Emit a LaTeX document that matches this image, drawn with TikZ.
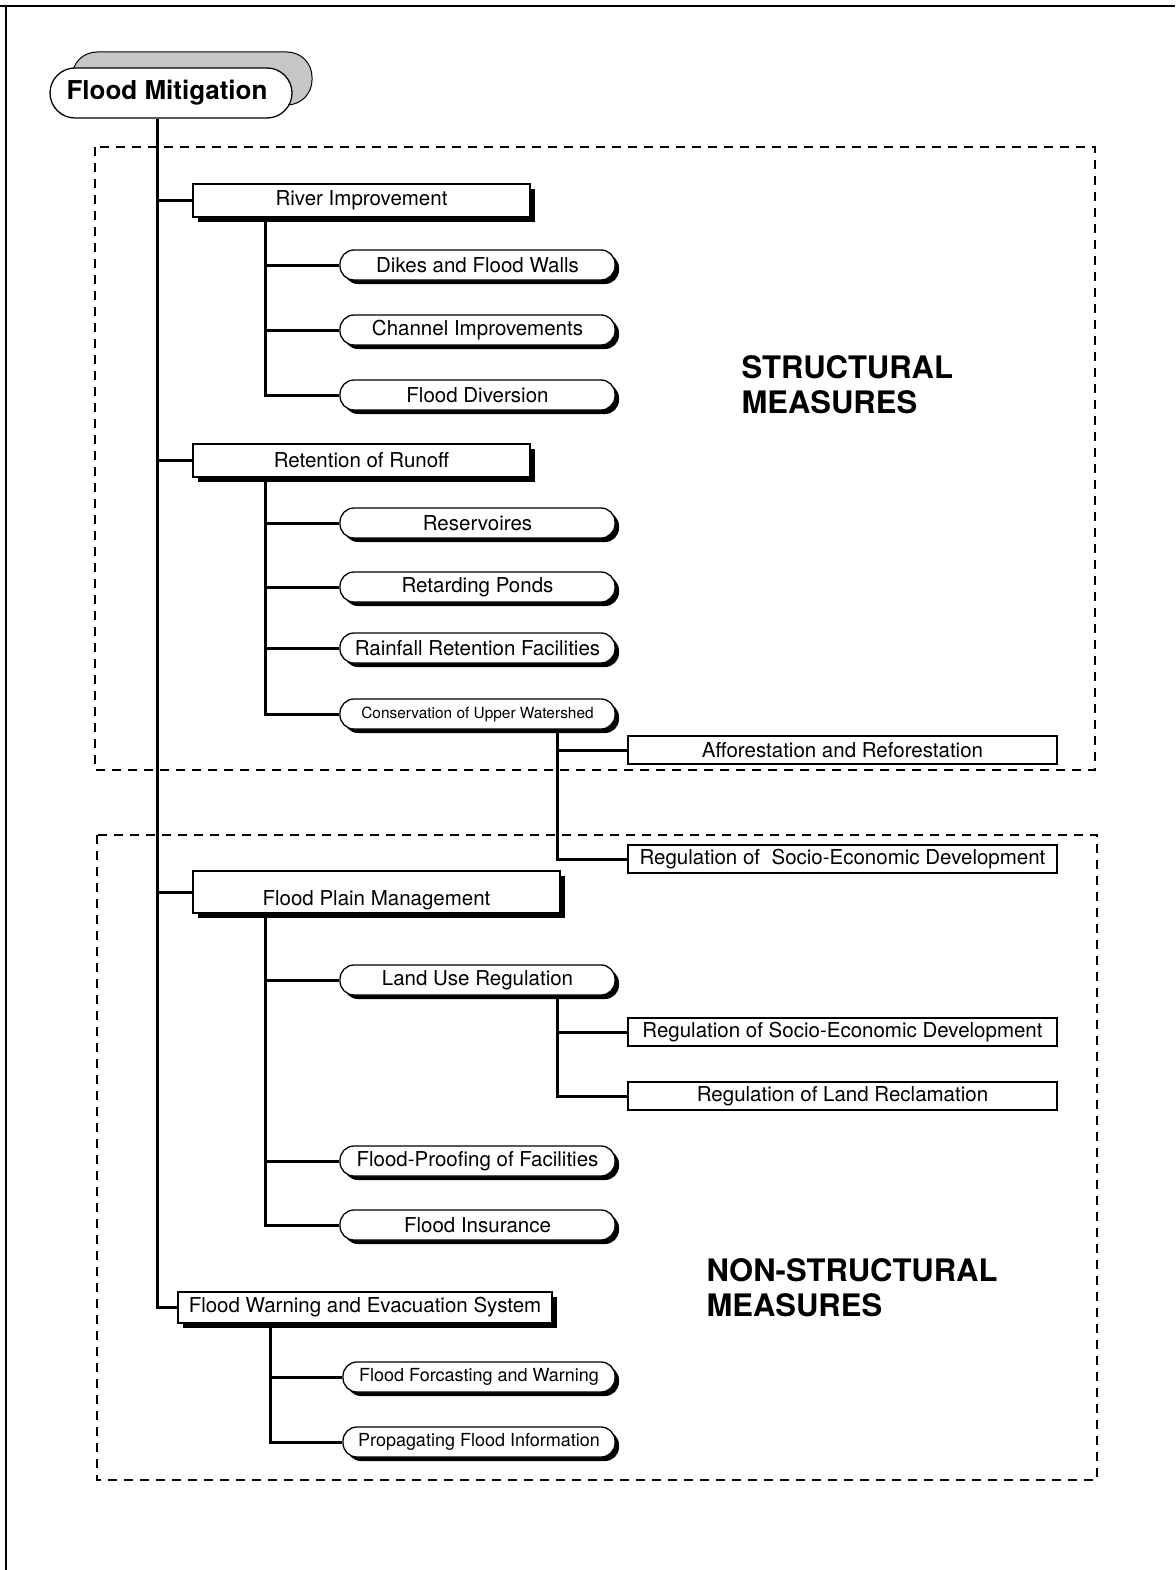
\documentclass[tikz,border=0pt]{standalone}
\usepackage{fontspec}
\setmainfont{TeX Gyre Heros}
\usetikzlibrary{shadows,calc}
\begin{document}
\begin{tikzpicture}[x=1pt,y=-1pt,
  conn/.style={line width=3pt},
  region/.style={dashed, dash pattern=on 9pt off 7pt, line width=1.3pt},
  rectbox/.style={draw, line width=1.3pt, fill=white, inner sep=0pt,
    drop shadow={shadow xshift=5pt, shadow yshift=-5pt, fill=black, opacity=1},
    font=\fontsize{20.5}{22}\selectfont},
  roundbox/.style={draw, line width=1.3pt, fill=white, inner sep=0pt, rounded corners=14pt,
    minimum width=275pt, minimum height=30pt,
    drop shadow={shadow xshift=4pt, shadow yshift=-4pt, fill=black, opacity=1},
    font=\fontsize{20.5}{22}\selectfont},
  plainbox/.style={draw, line width=1.3pt, fill=white, inner sep=0pt,
    minimum width=429pt, minimum height=28pt, font=\fontsize{20.5}{22}\selectfont},
  bigtext/.style={font=\bfseries\fontsize{31}{35}\selectfont, align=left, anchor=west}
]
\useasboundingbox (0,0) rectangle (1175,1570);
% page edges
\draw[line width=1.2pt] (0,6) -- (1175,6);
\draw[line width=1.5pt] (6,6) -- (6,1570);

% regions
\draw[region] (95,147) rectangle (1095,770);
\draw[region] (97,835) rectangle (1097,1480);

% root node with stippled back shape
\fill[gray!45, draw=black, line width=1pt, rounded corners=25pt] (72,52) rectangle (312,105);
\node[draw, line width=1.3pt, fill=white, rounded corners=25pt, minimum width=242pt,
  minimum height=50pt, inner sep=0pt, font=\bfseries\fontsize{26}{28}\selectfont]
  (FM) at (171,93) {\hspace*{-8pt}Flood Mitigation};

\coordinate (trunk) at (157,0);
\coordinate (subA) at (265,0);
\coordinate (subB) at (557,0);
\coordinate (subC) at (270,0);

% level-1 boxes
\node[rectbox, minimum width=337pt, minimum height=33pt] (RI) at (361.5,200.5) {River Improvement};
\node[rectbox, minimum width=337pt, minimum height=33pt] (RR) at (361.5,460.5) {Retention of Runoff};
\node[rectbox, minimum width=367pt, minimum height=42pt] (FP) at (376.5,892) {\raisebox{-13pt}[0pt][0pt]{Flood Plain Management}};
\node[rectbox, minimum width=374pt, minimum height=31pt] (FW) at (365,1307.5) {Flood Warning and Evacuation System};

% level-2 rounded boxes
\node[roundbox] (DK) at (477.5,265) {Dikes and Flood Walls};
\node[roundbox] (CI) at (477.5,330) {Channel Improvements};
\node[roundbox] (FD) at (477.5,395) {Flood Diversion};
\node[roundbox] (RS) at (477.5,523) {Reservoires};
\node[roundbox] (RP) at (477.5,587) {Retarding Ponds};
\node[roundbox] (RF) at (477.5,648) {Rainfall Retention Facilities};
\node[roundbox, font=\fontsize{15.4}{17}\selectfont] (CU) at (477.5,714) {Conservation of Upper Watershed};
\node[roundbox] (LU) at (477.5,980) {Land Use Regulation};
\node[roundbox] (FF) at (477.5,1161) {Flood-Proofing of Facilities};
\node[roundbox] (FI) at (477.5,1225) {Flood Insurance};
\node[roundbox, minimum width=272pt, font=\fontsize{18}{20}\selectfont] (FC) at (479,1377) {Flood Forcasting and Warning};
\node[roundbox, minimum width=272pt, font=\fontsize{18}{20}\selectfont] (PF) at (479,1442) {Propagating Flood Information};

% right plain boxes
\node[plainbox] (AR) at (842.5,750) {Afforestation and Reforestation};
\node[plainbox] (SE1) at (842.5,859) {Regulation of \ Socio-Economic Development};
\node[plainbox] (SE2) at (842.5,1032) {Regulation of Socio-Economic Development};
\node[plainbox] (LR) at (842.5,1096) {Regulation of Land Reclamation};

% big labels
\node[bigtext] (SM) at (738,385) {STRUCTURAL\\MEASURES};
\node[bigtext] (NSM) at (703,1288) {NON-STRUCTURAL\\MEASURES};

% trunk connectors
\draw[conn] (FM.south -| trunk) -- (FW.west -| trunk) -- (FW.west);
\draw[conn] (RI.west -| trunk) -- (RI.west);
\draw[conn] (RR.west -| trunk) -- (RR.west);
\draw[conn] (FP.west -| trunk) -- (FP.west);

% River Improvement
\draw[conn] (RI.south -| subA) -- (FD.west -| subA) -- (FD.west);
\draw[conn] (DK.west -| subA) -- (DK.west);
\draw[conn] (CI.west -| subA) -- (CI.west);
% Retention of Runoff
\draw[conn] (RR.south -| subA) -- (CU.west -| subA) -- (CU.west);
\draw[conn] (RS.west -| subA) -- (RS.west);
\draw[conn] (RP.west -| subA) -- (RP.west);
\draw[conn] (RF.west -| subA) -- (RF.west);
% Conservation
\draw[conn] (CU.south -| subB) -- (SE1.west -| subB) -- (SE1.west);
\draw[conn] (AR.west -| subB) -- (AR.west);
% Flood plain
\draw[conn] (FP.south -| subA) -- (FI.west -| subA) -- (FI.west);
\draw[conn] (LU.west -| subA) -- (LU.west);
\draw[conn] (FF.west -| subA) -- (FF.west);
% Land use
\draw[conn] (LU.south -| subB) -- (LR.west -| subB) -- (LR.west);
\draw[conn] (SE2.west -| subB) -- (SE2.west);
% Flood warning
\draw[conn] (FW.south -| subC) -- (PF.west -| subC) -- (PF.west);
\draw[conn] (FC.west -| subC) -- (FC.west);
\end{tikzpicture}
\end{document}
